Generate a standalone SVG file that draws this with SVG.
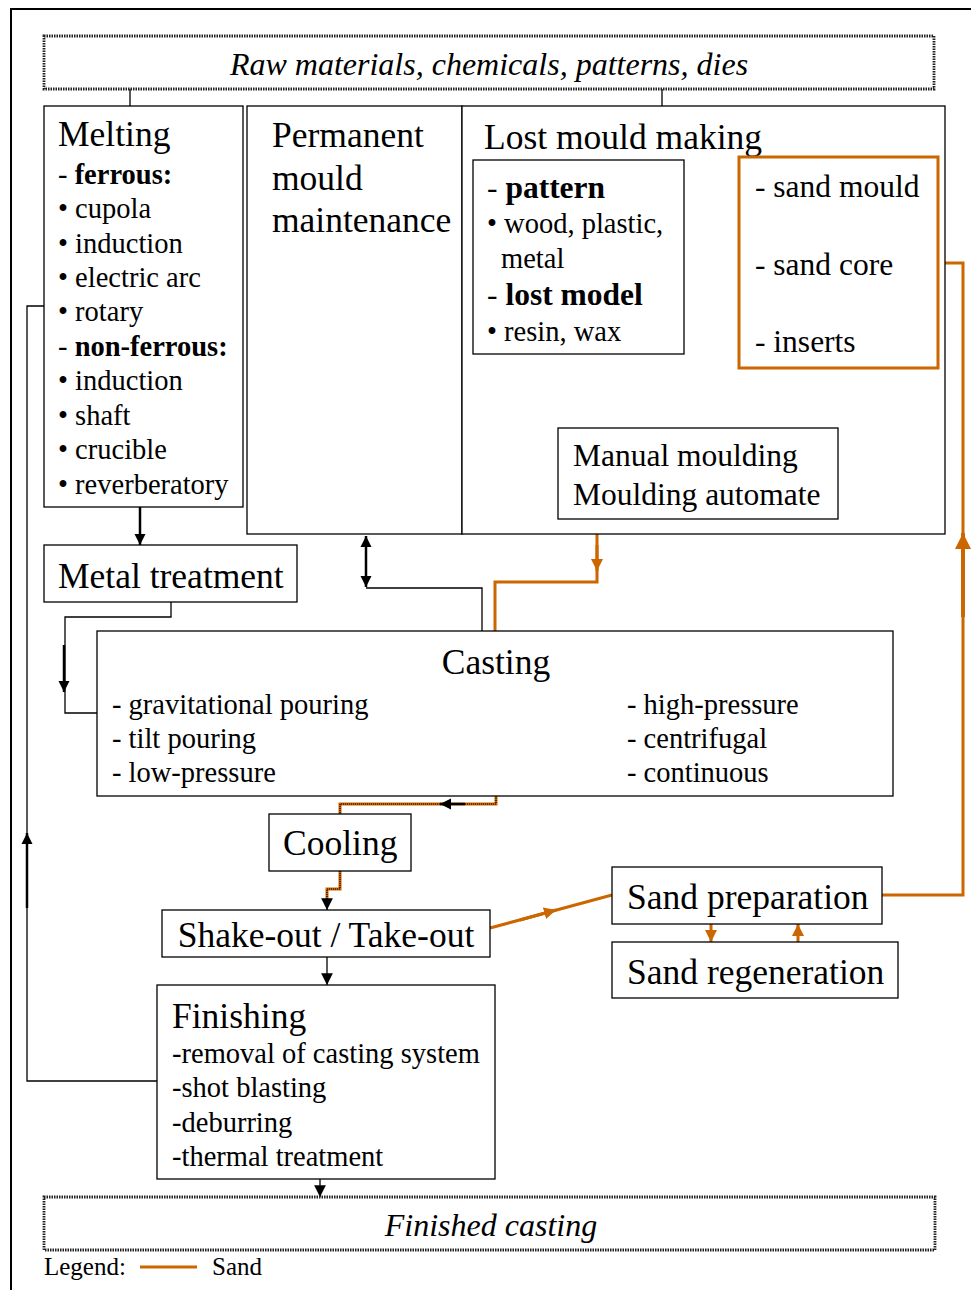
<svg xmlns="http://www.w3.org/2000/svg" width="971" height="1290" viewBox="0 0 971 1290">
<style>
text{font-family:"Liberation Serif","Times New Roman",serif;fill:#000}
.box{fill:#fff;stroke:#000;stroke-width:1.3}
.dbox{fill:#fff;stroke:#222;stroke-width:2.8;stroke-dasharray:1.5 1}
.obox{fill:none;stroke:#CC6600;stroke-width:3}
.h{font-size:35.5px}
.i{font-size:28.5px}
.m{font-size:31.5px}
.it{font-size:32px;font-style:italic}
.c{fill:none;stroke:#000;stroke-width:1.3}
.ct{fill:none;stroke:#000;stroke-width:2.5}
.o{fill:none;stroke:#CC6600;stroke-width:3}
.ot{fill:none;stroke:#CC6600;stroke-width:4}
.dk{fill:none;stroke:#000;stroke-width:1.2;stroke-dasharray:1 1}
</style>
<defs>
<marker id="ab" viewBox="0 0 10 10" refX="10" refY="5" markerWidth="4.5" markerHeight="4.5" markerUnits="strokeWidth" orient="auto"><path d="M0,0 L10,5 L0,10 z" fill="#000"/></marker>
<marker id="ab2" viewBox="0 0 10 10" refX="10" refY="5" markerWidth="9" markerHeight="9" markerUnits="strokeWidth" orient="auto"><path d="M0,0 L10,5 L0,10 z" fill="#000"/></marker>
<marker id="ao" viewBox="0 0 10 10" refX="10" refY="5" markerWidth="4" markerHeight="4" markerUnits="strokeWidth" orient="auto"><path d="M0,0 L10,5 L0,10 z" fill="#CC6600"/></marker>
</defs>
<path d="M11 1290 V9 H971" fill="none" stroke="#000" stroke-width="2"/>

<g id="connectors">
<path class="c" d="M130 89 V106 M662 89 V106"/>
<path class="ct" d="M140 507 V545" marker-end="url(#ab)"/>
<path class="c" d="M171 602 V617 H65 V713 H97"/>
<path class="ct" d="M64 645 V692" marker-end="url(#ab)"/>
<path class="ct" d="M366 560 V536" marker-end="url(#ab)"/>
<path class="ct" d="M366 560 V587" marker-end="url(#ab)"/>
<path class="c" d="M366 588 H482 V631"/>
<path class="o" d="M597 534 V582 H495 V631"/>
<path class="o" d="M597 545 V571" marker-end="url(#ao)"/>
<path class="c" d="M578 354 V391 H698 V428"/>
<path class="ct" d="M612 391 H657" marker-end="url(#ab)"/>
<path class="o" d="M838 368 V397 H699 V428"/>
<path class="o" d="M760 397 H742" marker-end="url(#ao)"/>
<path class="o" d="M938 263 H963 V895 H882"/>
<path class="ot" d="M963 617 V533" marker-end="url(#ao)"/>
<path class="o" d="M496 796 V804 H340 V814"/>
<path class="dk" d="M496 796 V804 H340 V814"/>
<path class="ct" d="M465 804 H440" marker-end="url(#ab)"/>
<path class="o" d="M340 871 V889 H327 V900"/>
<path class="dk" d="M340 871 V889 H327 V900"/>
<path class="c" d="M327 898 V910" stroke-width="2" marker-end="url(#ab2)"/>
<path class="c" d="M327 957 V985" marker-end="url(#ab2)"/>
<path class="c" d="M157 1081 H27 V306 H44"/>
<path class="ct" d="M27 908 V833" marker-end="url(#ab)"/>
<path class="c" d="M320 1179 V1197" marker-end="url(#ab2)"/>
<path class="o" d="M490 928 L612 895"/>
<path class="o" d="M520 920 L556 910" marker-end="url(#ao)"/>
<path class="o" d="M711 924 V942" marker-end="url(#ao)"/>
<path class="o" d="M798 942 V924" marker-end="url(#ao)"/>
</g>

<g id="raw">
<rect class="dbox" x="44" y="36" width="890" height="53"/>
<text class="it" x="489" y="75" text-anchor="middle">Raw materials, chemicals, patterns, dies</text>
</g>

<g id="melting">
<rect class="box" x="44" y="106" width="199" height="401"/>
<text class="h" x="58" y="146">Melting</text>
<text class="i" x="58" y="184">- <tspan font-weight="bold">ferrous:</tspan></text>
<text class="i" x="58" y="218">• cupola</text>
<text class="i" x="58" y="253">• induction</text>
<text class="i" x="58" y="287">• electric arc</text>
<text class="i" x="58" y="321">• rotary</text>
<text class="i" x="58" y="356">- <tspan font-weight="bold">non-ferrous:</tspan></text>
<text class="i" x="58" y="390">• induction</text>
<text class="i" x="58" y="425">• shaft</text>
<text class="i" x="58" y="459">• crucible</text>
<text class="i" x="58" y="494">• reverberatory</text>
</g>

<g id="permanent">
<rect class="box" x="247" y="106" width="215" height="428"/>
<text class="h" x="272" y="147">Permanent</text>
<text class="h" x="272" y="190">mould</text>
<text class="h" x="272" y="232">maintenance</text>
</g>

<g id="lostmould">
<rect class="box" x="462" y="106" width="483" height="428"/>
<text class="h" x="484" y="149">Lost mould making</text>
</g>

<g id="pattern">
<rect class="box" x="473" y="160" width="211" height="194"/>
<text class="m" x="487" y="198">- <tspan font-weight="bold">pattern</tspan></text>
<text class="i" x="487" y="233">• wood, plastic,</text>
<text class="i" x="501" y="268">metal</text>
<text class="m" x="487" y="305">- <tspan font-weight="bold">lost model</tspan></text>
<text class="i" x="487" y="341">• resin, wax</text>
</g>

<g id="sandmould">
<rect class="obox" x="739" y="157" width="199" height="211"/>
<text class="m" x="755" y="197">- sand mould</text>
<text class="m" x="755" y="275">- sand core</text>
<text class="m" x="755" y="352">- inserts</text>
</g>

<g id="manual">
<rect class="box" x="558" y="428" width="280" height="91"/>
<text class="m" x="573" y="466">Manual moulding</text>
<text class="m" x="573" y="505">Moulding automate</text>
</g>

<g id="metaltreatment">
<rect class="box" x="44" y="545" width="253" height="57"/>
<text class="h" x="58" y="588">Metal treatment</text>
</g>

<g id="casting">
<rect class="box" x="97" y="631" width="796" height="165"/>
<text class="h" x="496" y="674" text-anchor="middle">Casting</text>
<text class="i" x="112" y="714">- gravitational pouring</text>
<text class="i" x="112" y="748">- tilt pouring</text>
<text class="i" x="112" y="782">- low-pressure</text>
<text class="i" x="627" y="714">- high-pressure</text>
<text class="i" x="627" y="748">- centrifugal</text>
<text class="i" x="627" y="782">- continuous</text>
</g>

<g id="cooling">
<rect class="box" x="269" y="814" width="142" height="57"/>
<text class="h" x="283" y="855">Cooling</text>
</g>

<g id="shakeout">
<rect class="box" x="162" y="910" width="328" height="47"/>
<text class="h" x="326" y="947" text-anchor="middle">Shake-out / Take-out</text>
</g>

<g id="sandprep">
<rect class="box" x="612" y="867" width="270" height="57"/>
<text class="h" x="627" y="909">Sand preparation</text>
</g>

<g id="sandregen">
<rect class="box" x="612" y="942" width="286" height="56"/>
<text class="h" x="627" y="984">Sand regeneration</text>
</g>

<g id="finishing">
<rect class="box" x="157" y="985" width="338" height="194"/>
<text class="h" x="172" y="1028">Finishing</text>
<text class="i" x="172" y="1063">-removal of casting system</text>
<text class="i" x="172" y="1097">-shot blasting</text>
<text class="i" x="172" y="1132">-deburring</text>
<text class="i" x="172" y="1166">-thermal treatment</text>
</g>

<g id="finished">
<rect class="dbox" x="44" y="1197" width="891" height="53"/>
<text class="it" x="491" y="1236" text-anchor="middle">Finished casting</text>
</g>

<g id="legend">
<text x="44" y="1275" font-size="25">Legend:</text>
<line x1="140" y1="1267" x2="197" y2="1267" stroke="#CC6600" stroke-width="3"/>
<text x="212" y="1275" font-size="25">Sand</text>
</g>
</svg>
